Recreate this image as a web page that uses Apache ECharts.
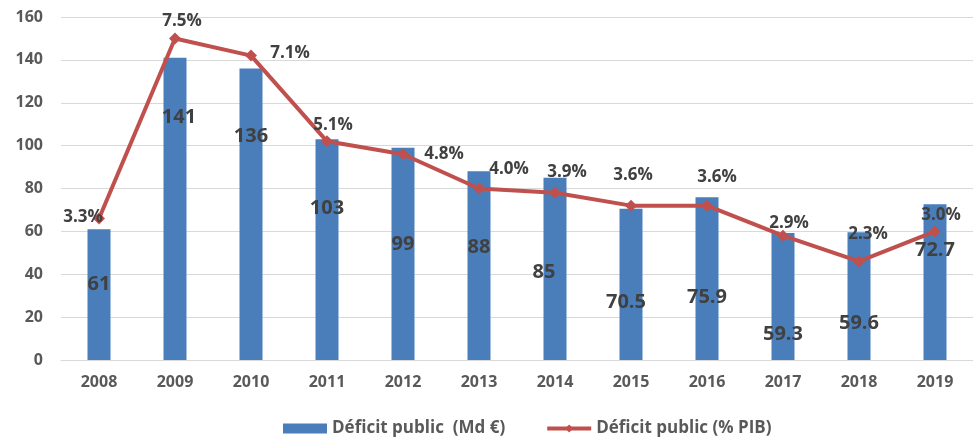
<!DOCTYPE html>
<html>
<head>
<meta charset="utf-8">
<script src="https://cdn.jsdelivr.net/npm/echarts@6/dist/echarts.min.js"></script>
<style>
  html, body { margin: 0; padding: 0; background: #fff; }
  #main { width: 973px; height: 446px; }
</style>
</head>
<body>
<div id="main"></div>
<script>
// données
var years = ['2008', '2009', '2010', '2011', '2012', '2013', '2014', '2015', '2016', '2017', '2018', '2019'];
var deficitMd = [61, 141, 136, 103, 99, 88, 85, 70.5, 75.9, 59.3, 59.6, 72.7];
var deficitPib = [3.3, 7.5, 7.1, 5.1, 4.8, 4.0, 3.9, 3.6, 3.6, 2.9, 2.3, 3.0];

// placement manuel des étiquettes (comme dans le graphique Excel)
var barLabelShift = [[0, 45], [4, 50], [0, 58], [0, 59], [0, 87], [0, 66], [-11, 85], [-5, 83], [0, 90], [0, 91], [0, 81], [0, 36]];
var lineLabelShift = [[-16, -1], [7, -17], [39, -2], [6, -16], [41, 0], [30, -19], [12, -21], [2, -30], [10, -28], [6, -13], [9, -27], [6, -16]];

var textGrey = '#595959';
var labelGrey = '#404040';
var font = 'Open Sans';

var chart = echarts.init(document.getElementById('main'));

chart.setOption({
  animation: false,
  grid: { left: 61, top: 17, width: 918, height: 343 },
  legend: {
    bottom: 4,
    left: 278,
    itemWidth: 44,
    itemHeight: 10,
    itemGap: 40,
    textStyle: { color: textGrey, fontSize: 17, fontFamily: font, fontWeight: 'bold' },
    data: [
      { name: 'Déficit public  (Md €)', icon: 'rect' },
      { name: 'Déficit public (% PIB)', lineStyle: { width: 4 } }
    ]
  },
  xAxis: {
    type: 'category',
    data: years,
    axisLine: { show: true, lineStyle: { color: '#d9d9d9', width: 1 } },
    axisTick: { show: false },
    axisLabel: { color: textGrey, fontSize: 16, fontFamily: font, fontWeight: 'bold', margin: 14 }
  },
  yAxis: [{
    type: 'value',
    min: 0,
    max: 160,
    interval: 20,
    axisLine: { show: false },
    axisTick: { show: false },
    splitLine: { lineStyle: { color: '#d9d9d9', width: 1 } },
    axisLabel: { color: textGrey, fontSize: 16, fontFamily: font, fontWeight: 'bold', margin: 18 }
  }, {
    type: 'value',
    min: 0,
    max: 8,
    show: false,
    splitLine: { show: false }
  }],
  series: [{
    name: 'Déficit public  (Md €)',
    type: 'bar',
    barWidth: 23,
    itemStyle: { color: '#4a7ebb' },
    data: deficitMd.map(function (v, i) {
      return {
        value: v,
        label: { offset: barLabelShift[i] }
      };
    }),
    label: {
      show: true,
      position: 'insideTop',
      distance: 0,
      color: labelGrey,
      fontSize: 20,
      fontFamily: font,
      fontWeight: 'bold'
    },
    z: 2
  }, {
    name: 'Déficit public (% PIB)',
    type: 'line',
    yAxisIndex: 1,
    symbol: 'diamond',
    symbolSize: 12,
    lineStyle: { color: '#c0504d', width: 4 },
    itemStyle: { color: '#c0504d' },
    data: deficitPib.map(function (v, i) {
      return {
        value: v,
        label: { offset: lineLabelShift[i] }
      };
    }),
    label: {
      show: true,
      position: 'inside',
      color: labelGrey,
      fontSize: 17,
      fontFamily: font,
      fontWeight: 'bold',
      formatter: function (p) { return p.value.toFixed(1) + '%'; }
    },
    z: 3
  }]
});
</script>
</body>
</html>
